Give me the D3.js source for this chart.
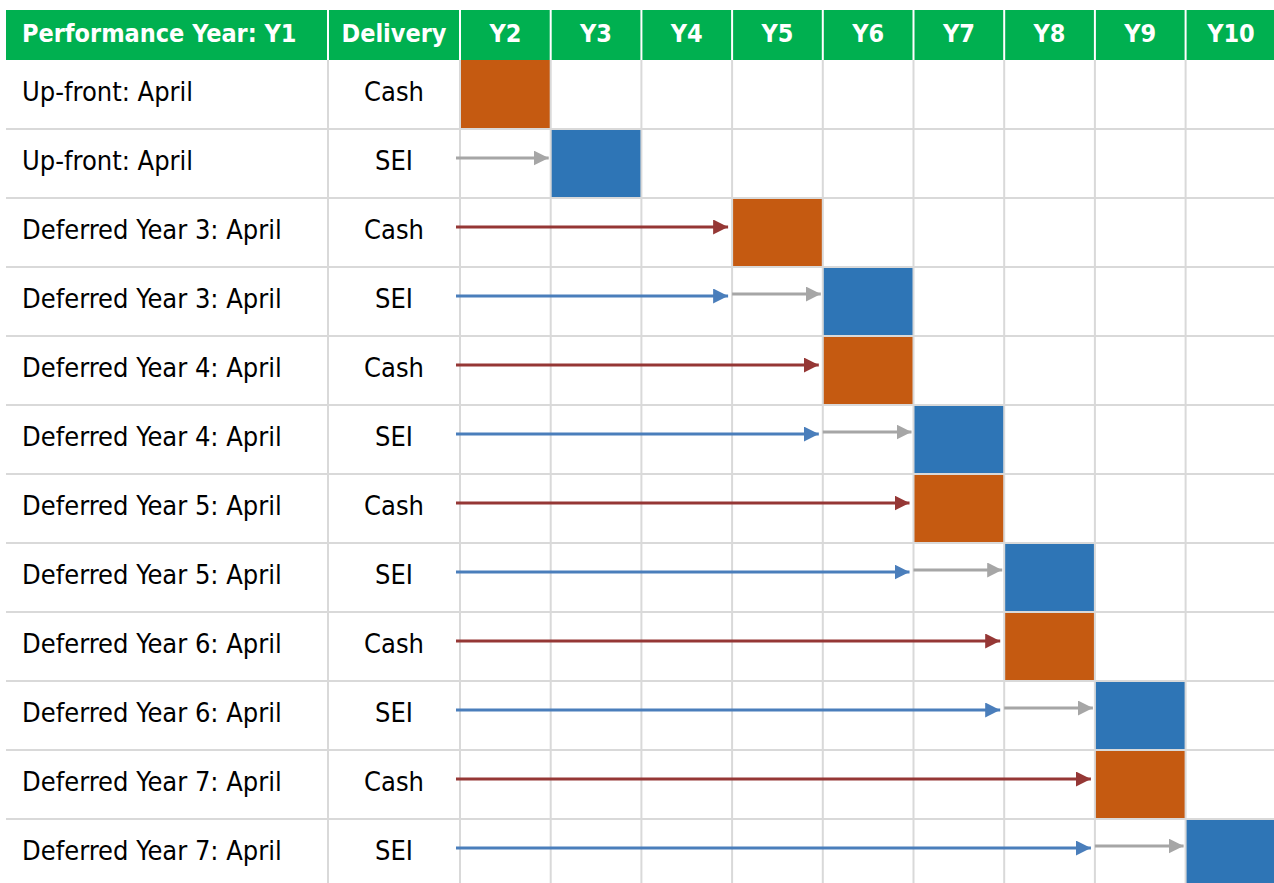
<!DOCTYPE html>
<html>
<head>
    <title>Deferral Schedule</title>
    <script src="https://d3js.org/d3.v7.min.js"></script>
    <style>
        body {margin: 0; background: #ffffff;}
        svg text {font-family: "DejaVu Sans Condensed", "DejaVu Sans", sans-serif;}
    </style>
</head>
<body>
<script>
    // Columns and rows of the schedule
    const years = ["Y2", "Y3", "Y4", "Y5", "Y6", "Y7", "Y8", "Y9", "Y10"];
    const rowLabels = ["Up-front: April", "Up-front: April",
        "Deferred Year 3: April", "Deferred Year 3: April",
        "Deferred Year 4: April", "Deferred Year 4: April",
        "Deferred Year 5: April", "Deferred Year 5: April",
        "Deferred Year 6: April", "Deferred Year 6: April",
        "Deferred Year 7: April", "Deferred Year 7: April"];
    const delivery = ["Cash", "SEI", "Cash", "SEI", "Cash", "SEI", "Cash", "SEI", "Cash", "SEI", "Cash", "SEI"];
    // year the award is delivered (coloured cell)
    const paidYear = ["Y2", "Y3", "Y5", "Y6", "Y6", "Y7", "Y7", "Y8", "Y8", "Y9", "Y9", "Y10"];
    // year the award vests (end of the deferral arrow)
    const vestYear = ["Y2", "Y2", "Y5", "Y5", "Y6", "Y6", "Y7", "Y7", "Y8", "Y8", "Y9", "Y9"];

    const width = 1274, height = 883;
    const cashColor = "#C55A11", seiColor = "#2E75B6";
    const cashArrow = "#953735", seiArrow = "#4A7EBB", retainArrow = "#A6A6A6";
    const gridColor = "#D9D9D9";

    const svg = d3.select("body").append("svg")
        .attr("width", width)
        .attr("height", height);

    const rows = d3.range(rowLabels.length);
    const x = d3.scaleBand().domain(years).range([460, 1276.3]);
    const y = d3.scaleBand().domain(rows).range([60, 60 + 69 * rows.length]);
    const labelLeft = 6, deliveryLeft = 328;

    // arrow heads
    const defs = svg.append("defs");
    [["cash", cashArrow], ["sei", seiArrow], ["retain", retainArrow]].forEach(function(m) {
        defs.append("marker")
            .attr("id", "head-" + m[0])
            .attr("viewBox", "0 0 10 10")
            .attr("refX", 10).attr("refY", 5)
            .attr("markerUnits", "userSpaceOnUse")
            .attr("markerWidth", 15).attr("markerHeight", 15)
            .attr("orient", "auto")
            .append("path")
            .attr("d", "M0,0L10,5L0,10Z")
            .attr("fill", m[1]);
    });

    // header
    const header = svg.append("g");
    header.append("rect")
        .attr("x", labelLeft).attr("y", 10)
        .attr("width", width - labelLeft).attr("height", 50)
        .attr("fill", "#00B050");
    const headerText = function(tx, anchor, label) {
        header.append("text")
            .attr("x", tx).attr("y", 42)
            .attr("text-anchor", anchor)
            .attr("fill", "#ffffff")
            .attr("font-weight", "bold")
            .attr("font-size", 25)
            .text(label);
    };
    headerText(22, "start", "Performance Year: Y1");
    headerText((deliveryLeft + 460) / 2, "middle", "Delivery");
    years.forEach(function(yr) { headerText(x(yr) + x.bandwidth() / 2, "middle", yr); });
    [deliveryLeft, 460].concat(years.slice(1).map(function(yr) { return x(yr); })).forEach(function(vx) {
        header.append("line")
            .attr("x1", vx).attr("x2", vx)
            .attr("y1", 10).attr("y2", 60)
            .attr("stroke", "#ffffff").attr("stroke-width", 2);
    });

    // coloured delivery cells
    svg.append("g").selectAll("rect")
        .data(rows)
        .join("rect")
        .attr("x", function(i) { return x(paidYear[i]); })
        .attr("y", function(i) { return y(i); })
        .attr("width", x.bandwidth())
        .attr("height", y.bandwidth())
        .attr("fill", function(i) { return delivery[i] == "Cash" ? cashColor : seiColor; });

    // grid
    const grid = svg.append("g")
        .attr("stroke", gridColor).attr("stroke-width", 2);
    rows.slice(1).forEach(function(i) {
        grid.append("line")
            .attr("x1", labelLeft).attr("x2", width)
            .attr("y1", y(i)).attr("y2", y(i));
    });
    [deliveryLeft].concat(years.map(function(yr) { return x(yr); })).forEach(function(vx) {
        grid.append("line")
            .attr("x1", vx).attr("x2", vx)
            .attr("y1", 60).attr("y2", height);
    });

    // row texts
    const body = svg.append("g").attr("font-size", 27).attr("fill", "#000000");
    rows.forEach(function(i) {
        body.append("text")
            .attr("x", 22).attr("y", y(i) + 41)
            .text(rowLabels[i]);
        body.append("text")
            .attr("x", (deliveryLeft + 460) / 2).attr("y", y(i) + 41)
            .attr("text-anchor", "middle")
            .text(delivery[i]);
    });

    // arrows
    const arrows = svg.append("g").attr("stroke-width", 3).attr("fill", "none");
    const startX = 456;
    rows.forEach(function(i) {
        const ay = y(i) + 29;
        const vx = x(vestYear[i]);
        const hasDeferral = vx - 4 > startX + 20;
        if (hasDeferral) {
            arrows.append("line")
                .attr("x1", startX).attr("x2", vx - 4)
                .attr("y1", ay).attr("y2", ay)
                .attr("stroke", delivery[i] == "Cash" ? cashArrow : seiArrow)
                .attr("marker-end", "url(#head-" + (delivery[i] == "Cash" ? "cash" : "sei") + ")");
        }
        if (delivery[i] == "SEI") {
            const gx = hasDeferral ? vx : startX;
            const gy = hasDeferral ? ay - 2 : ay;
            arrows.append("line")
                .attr("x1", gx).attr("x2", x(paidYear[i]) - 2)
                .attr("y1", gy).attr("y2", gy)
                .attr("stroke", retainArrow)
                .attr("marker-end", "url(#head-retain)");
        }
    });
</script>
</body>
</html>
